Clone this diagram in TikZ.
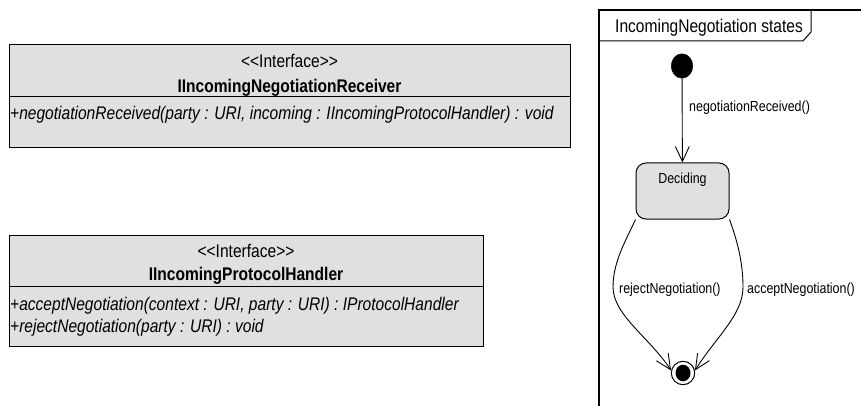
\documentclass[tikz,border=0pt]{standalone}
\usepackage{fontspec}
\setmainfont{Liberation Sans}[FakeStretch=0.85]
\usetikzlibrary{arrows.meta,shapes.geometric}
\definecolor{boxgray}{RGB}{224,224,224}
% guillemet-free stereotype brackets
\newcommand{\stlt}{<\kern0pt<}
\newcommand{\stgt}{>\kern0pt>}
\begin{document}
\begin{tikzpicture}[x=1pt,y=-1pt,
  classbox/.style={draw, line width=1pt, fill=boxgray, rectangle, anchor=north west, inner sep=0pt},
  classtext/.style={font=\fontsize{18.3}{21}\selectfont, inner sep=0pt, anchor=base},
  classname/.style={font=\fontsize{18.3}{21}\selectfont\bfseries, inner sep=0pt, anchor=base},
  optext/.style={font=\fontsize{18.3}{21}\selectfont\itshape, inner sep=0pt, anchor=base west},
  statetext/.style={font=\fontsize{14.6}{17}\selectfont, inner sep=0pt, anchor=base},
  statebox/.style={draw, line width=1pt, fill=boxgray, rectangle, rounded corners=10pt,
    minimum width=93pt, minimum height=56pt, inner sep=0pt},
  trans/.style={line width=0.9pt, -{Straight Barb[length=15pt,width=14pt,line width=0.9pt]}},
]
\useasboundingbox (0,0) rectangle (861,406);
\clip (0,0) rectangle (861,406);

% interface IIncomingNegotiationReceiver
\node[classbox, minimum width=561pt, minimum height=103pt] (recv) at (9,44) {};
\draw[line width=1pt] (recv.west |- 0,97) -- (recv.east |- 0,97);
\node[classtext] (recvst) at (289.5,68) {\stlt Interface\stgt};
\node[classname] (recvname) at (289.5,93) {IIncomingNegotiationReceiver};
\node[optext] (recvop) at (10,120) {+negotiationReceived(party : URI, incoming : IIncomingProtocolHandler) : void};

% interface IIncomingProtocolHandler
\node[classbox, minimum width=474pt, minimum height=111pt] (hand) at (9,235) {};
\draw[line width=1pt] (hand.west |- 0,286) -- (hand.east |- 0,286);
\node[classtext] (handst) at (246,257) {\stlt Interface\stgt};
\node[classname] (handname) at (246,280) {IIncomingProtocolHandler};
\node[optext] (handop1) at (10,310) {+acceptNegotiation(context : URI, party : URI) : IProtocolHandler};
\node[optext] (handop2) at (10,332) {+rejectNegotiation(party : URI) : void};

% state machine frame
\draw[line width=1.2pt] (599,420) -- (599,10) -- (870,10);
\draw[line width=1pt] (599,41) -- (803,41) -- (811,32) -- (811,10);
\node[classtext, anchor=base west] (frtitle) at (615,33) {IncomingNegotiation states};

% states
\node[ellipse, fill=black, draw, minimum width=21.6pt, minimum height=24.4pt, inner sep=0pt] (init) at (682,66) {};
\node[statebox] (dec) at (682.5,191) {};
\node[statetext] (dectext) at (682.5,183) {Deciding};
\node[circle, draw, line width=1pt, fill=white, minimum size=23.4pt, inner sep=0pt] (fin) at (683,373) {};
\node[ellipse, fill=black, minimum width=15pt, minimum height=16.6pt, inner sep=0pt] (finin) at (fin.center) {};

% transitions
\draw[trans] (init) -- (dec);
\node[statetext, anchor=base west] (lblrecv) at (689,112) {negotiationReceived()};

\coordinate (rejbend) at (613,287);
\coordinate (accbend) at (743,287);
\draw[trans] (dec.south west) .. controls (626,240) and (613,262) .. (rejbend)
  .. controls (613,315) and (650,338) .. (fin.168);
\draw[trans] (dec.south east) .. controls (737,240) and (743,262) .. (accbend)
  .. controls (743,315) and (716,337) .. (fin.12);
\node[statetext, anchor=base west] (lblrej) at (619,293) {rejectNegotiation()};
\node[statetext, anchor=base west] (lblacc) at (747,293) {acceptNegotiation()};
\end{tikzpicture}
\end{document}
